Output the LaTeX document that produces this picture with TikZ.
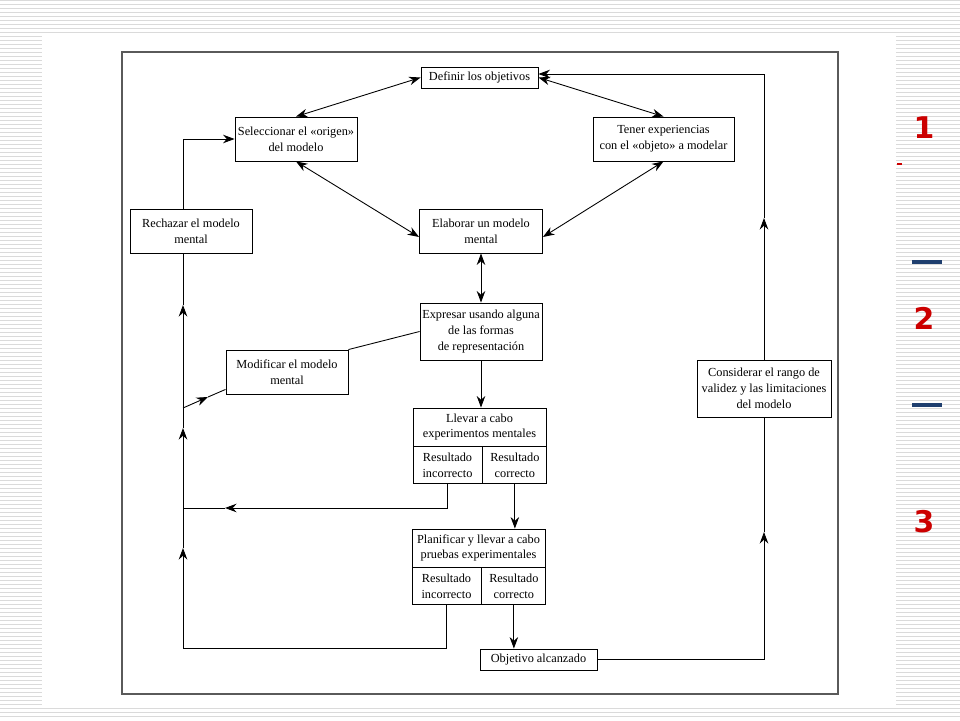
\documentclass[tikz,border=0pt]{standalone}
\usepackage{fontspec}
\setmainfont{Liberation Serif}
\newfontfamily\numfont{DejaVu Sans}
\usepackage{xcolor}
\usepackage{tikz}
\usetikzlibrary{arrows.meta,positioning,calc}
\definecolor{stripegray}{HTML}{DADADA}
\definecolor{framegray}{HTML}{5A5A5A}
\definecolor{numred}{HTML}{CC0000}
\definecolor{dashblue}{HTML}{1F3F6F}

\begin{document}
\begin{tikzpicture}[
  box/.style={draw,line width=0.5pt,fill=white,align=center,inner sep=1pt,font=\fontsize{7}{9}\selectfont},
  cell/.style={box,minimum height=0.74cm,anchor=north west},
  flow/.style={line width=0.5pt},
  num/.style={font=\numfont\bfseries\fontsize{17}{17}\selectfont,text=numred},
  >={Stealth[length=2.3mm,width=1.7mm]}]

  \useasboundingbox (0,0) rectangle (19.2,14.4);

  % slide background
  \foreach \i in {0,...,179}
    \draw[stripegray,line width=0.5pt] (0,14.39-\i*0.08) -- (19.2,14.39-\i*0.08);
  \fill[white] (0.84,0.30) rectangle (17.92,13.74);

  % numbers at the right edge
  \node[num] (n1) at (18.48,11.84) {1};
  \node[num] (n2) at (18.48,8.04) {2};
  \node[num] (n3) at (18.48,3.96) {3};
  \draw[dashblue,line width=1.8pt] (18.24,9.16) -- (18.84,9.16);
  \draw[dashblue,line width=1.8pt] (18.24,6.30) -- (18.84,6.30);
  \draw[numred,line width=0.8pt] (17.94,11.12) -- (18.04,11.12);

  % frame
  \draw[framegray,line width=1pt] (2.44,0.52) rectangle (16.76,13.36);

  % boxes
  \node[box,minimum width=2.34cm,minimum height=0.42cm] (def) at (9.59,12.85) {Definir los objetivos};
  \node[box,minimum width=2.44cm,minimum height=0.88cm] (sel) at (5.92,11.62) {Seleccionar el «origen»\\del modelo};
  \node[box,minimum width=2.82cm,minimum height=0.88cm] (ten) at (13.27,11.62) {Tener experiencias\\con el «objeto» a modelar};
  \node[box,minimum width=2.44cm,minimum height=0.88cm] (rech) at (3.82,9.78) {Rechazar el modelo\\mental};
  \node[box,minimum width=2.46cm,minimum height=0.88cm] (elab) at (9.62,9.78) {Elaborar un modelo\\mental};
  \node[box,minimum width=2.44cm,minimum height=1.14cm] (expr) at (9.62,7.77) {Expresar usando alguna\\de las formas\\de representación};
  \node[box,minimum width=2.44cm,minimum height=0.88cm] (modi) at (5.74,6.96) {Modificar el modelo\\mental};
  \node[box,minimum width=2.68cm,minimum height=1.14cm] (cons) at (15.28,6.63) {Considerar el rango de\\validez y las limitaciones\\del modelo};

  % mental experiments
  \node[box,minimum width=2.66cm,minimum height=0.76cm] (llev) at (9.59,5.86) {Llevar a cabo\\experimentos mentales};
  \node[cell,minimum width=1.38cm] (llevI) at (llev.south west) {Resultado\\incorrecto};
  \node[cell,minimum width=1.28cm] (llevC) at (llevI.north east) {Resultado\\correcto};

  % experimental tests
  \node[box,minimum width=2.66cm,minimum height=0.76cm] (plan) at (9.57,3.44) {Planificar y llevar a cabo\\pruebas experimentales};
  \node[cell,minimum width=1.38cm] (planI) at (plan.south west) {Resultado\\incorrecto};
  \node[cell,minimum width=1.28cm] (planC) at (planI.north east) {Resultado\\correcto};

  \node[box,minimum width=2.34cm,minimum height=0.42cm] (obj) at (10.77,1.21) {Objetivo alcanzado};

  % central links
  \draw[flow,<->] (def.west) -- (sel.north);
  \draw[flow,<->] (def.east) -- (ten.north);
  \draw[flow,<->] (sel.south) -- ($(elab.west)+(0,-0.12)$);
  \draw[flow,<->] (ten.south) -- ($(elab.east)+(0,-0.12)$);
  \draw[flow,<->] (elab.south) -- (expr.north);
  \draw[flow,->] (expr.south) -- (expr.south |- llev.north);
  \draw[flow] (expr.west) -- (modi.north east);
  \draw[flow,->] (llevC.south) -- (llevC.south |- plan.north);
  \draw[flow,->] (planC.south) -- (planC.south |- obj.north);

  % left return line
  \coordinate (lb) at (3.66,1.44);
  \coordinate (l1) at (3.66,3.44);
  \coordinate (l2) at (3.66,4.24);
  \coordinate (l3) at (3.66,5.84);
  \coordinate (l4) at (3.66,6.24);
  \coordinate (l5) at (3.66,8.30);
  \coordinate (lm) at (4.16,6.46);
  \coordinate (la) at (4.50,4.24);
  \draw[flow] (planI.south) |- (lb);
  \draw[flow,->] (lb) -- (l1);
  \draw[flow] (l1) -- (l2);
  \draw[flow,->] (llevI.south) |- (la);
  \draw[flow] (la) -- (l2);
  \draw[flow,->] (l2) -- (l3);
  \draw[flow] (l3) -- (l4);
  \draw[flow,->] (l4) -- (lm);
  \draw[flow] (lm) -- ($(modi.south west)+(0,0.1)$);
  \draw[flow,->] (l4) -- (l5);
  \draw[flow] (l5) -- (rech.south -| l5);
  \draw[flow,->] (rech.north -| l5) |- (sel.west);

  % right return line
  \coordinate (r1) at (15.28,3.76);
  \coordinate (r2) at (15.28,10.04);
  \draw[flow,->] (obj.east) -| (r1);
  \draw[flow] (r1) -- (cons.south);
  \draw[flow,->] (cons.north) -- (r2);
  \draw[flow,->] (r2) |- ($(def.east)+(0,0.07)$);

\end{tikzpicture}
\end{document}
